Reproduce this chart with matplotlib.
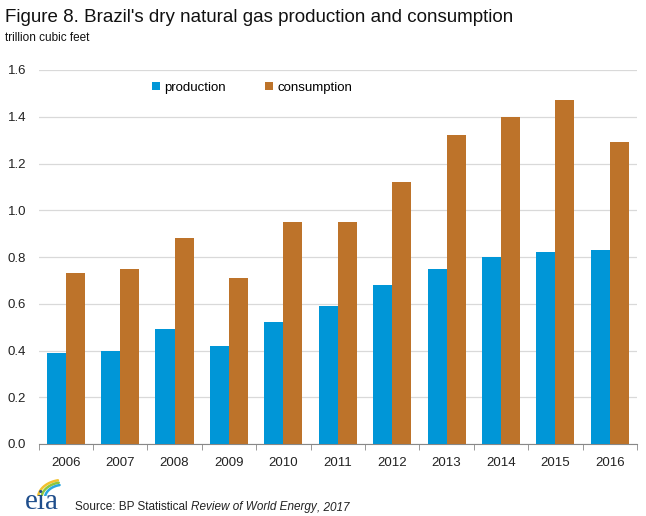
import matplotlib
matplotlib.use("Agg")
import matplotlib.pyplot as plt
import numpy as np

years = ["2006", "2007", "2008", "2009", "2010", "2011",
         "2012", "2013", "2014", "2015", "2016"]
production = [0.39, 0.40, 0.49, 0.42, 0.52, 0.59, 0.68, 0.75, 0.80, 0.82, 0.83]
consumption = [0.73, 0.75, 0.88, 0.71, 0.95, 0.95, 1.12, 1.32, 1.40, 1.47, 1.29]
y_ticks = [0.0, 0.2, 0.4, 0.6, 0.8, 1.0, 1.2, 1.4, 1.6]

blue = "#0096d7"
brown = "#bd732a"

plt.rcParams["font.family"] = ["Liberation Sans", "DejaVu Sans"]

fig = plt.figure(figsize=(6.46, 5.16), dpi=100)
ax = fig.add_axes([38.5 / 646, 72 / 516, 598.5 / 646, 374 / 516])

x = np.arange(len(years))
w = 0.35
ax.bar(x - w / 2, production, width=w, color=blue, label="production", zorder=3)
ax.bar(x + w / 2, consumption, width=w, color=brown, label="consumption", zorder=3)

ax.set_xlim(-0.5, len(years) - 0.5)
ax.set_ylim(0, 1.6)
ax.set_yticks(y_ticks)
ax.set_yticklabels([f"{v:.1f}" for v in y_ticks], fontsize=9.5, color="#222222")
ax.set_xticks(x)
ax.set_xticklabels(years, fontsize=9.5, color="#222222")
ax.tick_params(axis="x", length=0, pad=9)
ax.tick_params(axis="y", length=0, pad=9)
ax.set_xticks(np.arange(len(years) + 1) - 0.5, minor=True)
ax.tick_params(axis="x", which="minor", length=4, color="#888888")

ax.yaxis.grid(True, color="#d9d9d9", linewidth=0.9, zorder=0)
for s in ["top", "right", "left"]:
    ax.spines[s].set_visible(False)
ax.spines["bottom"].set_color("#888888")

ax.legend(loc="upper left", bbox_to_anchor=(0.17, 1.0), ncol=2, frameon=False,
          fontsize=9.5, handlelength=0.6, handleheight=0.6, handletextpad=0.3,
          columnspacing=3.0)

fig.text(5 / 646, 1 - 17 / 516, "Figure 8. Brazil's dry natural gas production and consumption",
         fontsize=13.5, va="center", ha="left", color="#111111")
fig.text(5 / 646, 1 - 38 / 516, "trillion cubic feet", fontsize=8.5, va="center",
         ha="left", color="#111111")

# source line, with the publication name in italics
src = fig.text(75 / 646, 1 - 507 / 516, "Source: BP Statistical ", fontsize=8.5,
               va="center", ha="left", color="#222222")
src2 = ax.annotate("Review of World Energy", xy=(1, 0.5), xycoords=src, va="center",
                   ha="left", fontsize=8.5, style="italic", color="#222222",
                   annotation_clip=False)
ax.annotate(", 2017", xy=(1, 0.5), xycoords=src2, va="center", ha="left",
            fontsize=8.5, style="italic", color="#222222", annotation_clip=False)

# eia logo
fig.text(25 / 646, 1 - 509 / 516, "eia", fontsize=21, family="Liberation Serif",
         color="#1f4e8c", va="baseline", ha="left")
lax = fig.add_axes([26 / 646, 1 - 496 / 516, 40 / 646, 22 / 516])
lax.set_xlim(0, 40)
lax.set_ylim(0, 22)
lax.axis("off")
t = np.linspace(0.1, 0.85, 40)
for r, c in [(26, "#f2c12e"), (22.5, "#8cc63f"), (19, "#2aa7df")]:
    lax.plot(38 - r * np.cos(t * np.pi / 2), -2 + r * np.sin(t * np.pi / 2) * 0.7,
             color=c, lw=1.8, solid_capstyle="round")

fig.savefig("out.png", dpi=100)
